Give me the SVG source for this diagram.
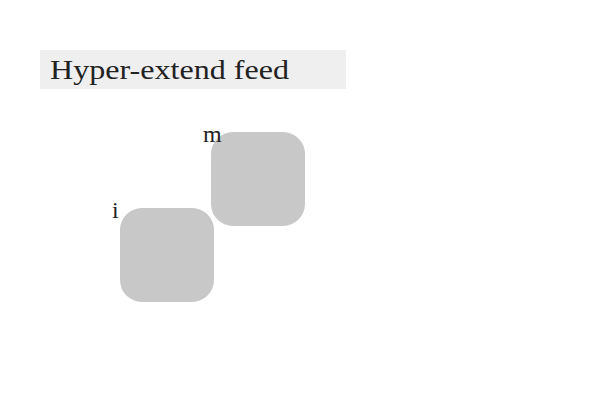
<svg xmlns="http://www.w3.org/2000/svg" width="600" height="400" viewBox="0 0 600 400">
<style>
.node rect{fill:#c8c8c8;}
.lbl{font-family:"Liberation Serif","DejaVu Serif",serif;font-size:24px;fill:#222;}
.title{font-family:"Liberation Serif","DejaVu Serif",serif;font-size:28px;fill:#222;}
</style>
<rect width="600" height="400" fill="#fff"/>
<g id="title">
<rect x="40" y="50" width="306" height="39" fill="#efefef"/>
<text class="title" x="50" y="79" textLength="239" lengthAdjust="spacingAndGlyphs">Hyper-extend feed</text>
</g>
<g id="connectors"></g>
<g id="node-m" class="node">
<rect x="211" y="132" width="94" height="94" rx="22"/>
<text class="lbl" x="203" y="142">m</text>
</g>
<g id="node-i" class="node">
<rect x="120" y="208" width="94" height="94" rx="22"/>
<text class="lbl" x="112" y="218">i</text>
</g>
</svg>
